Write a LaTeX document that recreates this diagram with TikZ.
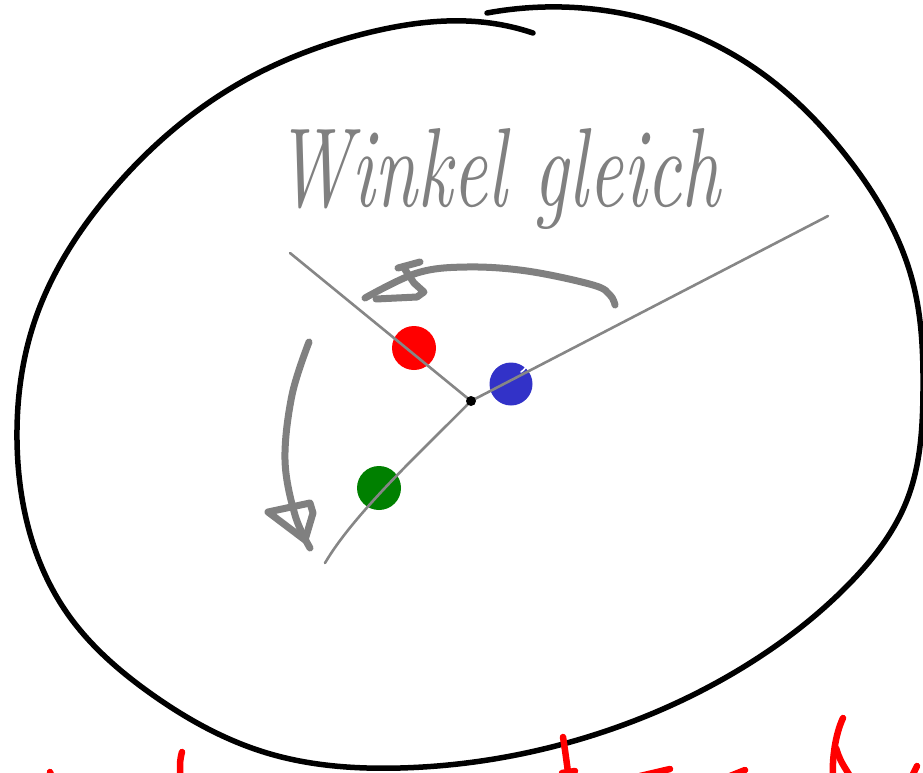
\documentclass[tikz,border=0pt]{standalone}
\usepackage{graphicx}
\usetikzlibrary{hobby}
\begin{document}
\begin{tikzpicture}[x=1pt,y=-1pt,
  rim/.style={line width=5.5pt,line cap=round,line join=round,black},
  guide/.style={line width=2.6pt,line cap=round,gray!95},
  turn/.style={line width=7pt,line cap=round,line join=round,gray},
  ink/.style={line width=6.5pt,line cap=round,line join=round,red},
  dot/.style={circle,inner sep=0pt,minimum size=#1}]
\useasboundingbox (0,0) rectangle (923,773);
% outer loop
\draw[rim] (487,13) to[curve through={(620,13) (753,67) (847,157) (913,283) (923,390)
 (907,500) (850,583) (750,663) (600,733) (400,768) (267,753) (150,693) (67,613)
 (17,440) (35,320) (110,193) (233,87) (367,33) (490,23)}] (533,33);
% dots
\node[dot=44pt,fill=red] (rd) at (414,348) {};
\node[dot=43pt,fill={rgb,255:red,50;green,50;blue,200}] (bd) at (511,384) {};
\draw[white,line width=1.6pt,line cap=round] (521,372) arc[start angle=60,end angle=-50,radius=13];
\node[dot=44pt,fill={rgb,255:red,0;green,128;blue,0}] (gd) at (379,488) {};
% guide lines
\coordinate (o) at (471,401);
\coordinate (a) at (290,253);
\coordinate (b) at (828,216);
\coordinate (c) at (325,563);
\draw[guide] (a) -- (o);
\draw[guide] (o) -- (b);
\draw[guide] (o) .. controls (425,448) and (355,512) .. (c);
\node[dot=10pt,fill=black] (od) at (o) {};
% top arrow
\draw[turn] plot[smooth,tension=0.6] coordinates {(615,305) (610,295) (593,285) (527,271) (467,267) (417,273) (365,298)};
\draw[turn] (420,262) -- (398,268);
\draw[turn] (404,268) -- (414,283) -- (424,292) -- (417,297) -- (376,299);
% left arrow
\draw[turn] plot[smooth,tension=0.6] coordinates {(309,342) (292,395) (285,460) (295,515) (310,548)};
\draw[turn] (305,540) -- (268,512) -- (310,503) -- (313,513) -- (305,540);
% label
\node[anchor=base west,inner sep=0pt,text=gray] (lbl) at (275,206)
  {\resizebox{445pt}{78pt}{\itshape Winkel gleich}};
% cut-off red writing
\draw[ink] (50,772) -- (51,775);
\draw[ink] (182,752) .. controls (180,760) .. (180,776);
\draw[ink] (563,737) .. controls (565,750) .. (568,772);
\draw[ink] (562,773) -- (575,771);
\draw[ink] (640,776) -- (670,769);
\draw[ink] (730,776) -- (745,770);
\draw[ink] (843,718) .. controls (835,735) and (832,760) .. (833,776);
\draw[ink] (836,748) .. controls (840,760) .. (850,776);
\draw[ink] (917,766) -- (912,776);
\end{tikzpicture}
\end{document}
